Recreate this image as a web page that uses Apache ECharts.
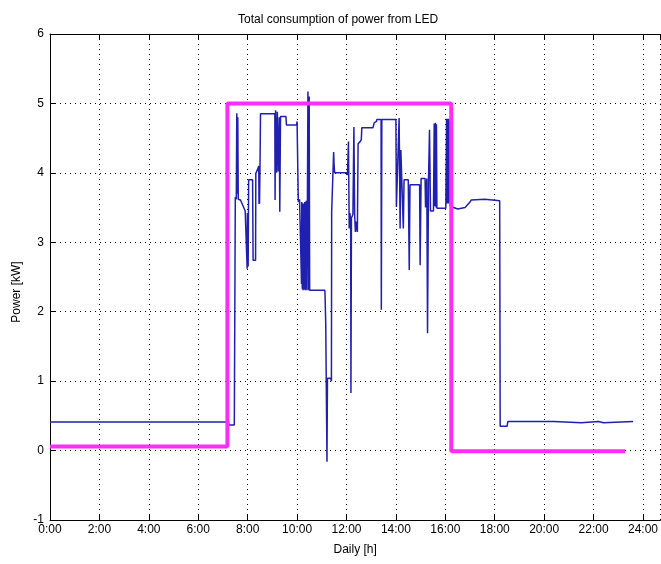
<!DOCTYPE html>
<html>
<head>
<meta charset="utf-8">
<script src="https://cdn.jsdelivr.net/npm/echarts@6/dist/echarts.min.js"></script>
<style>
html,body{margin:0;padding:0;background:#fff;}
#chart{width:661px;height:564px;}
</style>
</head>
<body>
<div id="chart"></div>
<script>
// Measured LED power consumption (hour of day, kW), 10 points per row
const ledHours = [
  0.00, 7.10, 7.14, 7.22, 7.24, 7.46, 7.50, 7.50, 7.54, 7.56,
  7.58, 7.60, 7.62, 7.71, 7.90, 7.96, 7.98, 7.99, 8.00, 8.01,
  8.02, 8.04, 8.20, 8.22, 8.32, 8.33, 8.40, 8.45, 8.46, 8.47,
  8.48, 8.50, 8.52, 9.10, 9.11, 9.13, 9.17, 9.20, 9.24, 9.28,
  9.30, 9.33, 9.55, 9.57, 9.98, 10.00, 10.04, 10.05, 10.10, 10.16,
  10.18, 10.19, 10.21, 10.22, 10.24, 10.25, 10.27, 10.28, 10.30, 10.31,
  10.33, 10.34, 10.36, 10.37, 10.40, 10.44, 10.47, 10.49, 10.51, 11.12,
  11.13, 11.16, 11.16, 11.20, 11.21, 11.23, 11.36, 11.39, 11.40, 11.45,
  11.48, 11.50, 11.52, 12.00, 12.04, 12.07, 12.08, 12.11, 12.14, 12.17,
  12.18, 12.20, 12.26, 12.30, 12.33, 12.36, 12.40, 12.44, 12.47, 12.55,
  12.60, 12.62, 13.07, 13.12, 13.21, 13.23, 13.40, 13.41, 13.43, 14.00,
  14.02, 14.10, 14.13, 14.17, 14.20, 14.28, 14.30, 14.33, 14.50, 14.54,
  14.57, 14.96, 14.98, 15.02, 15.18, 15.20, 15.25, 15.28, 15.32, 15.36,
  15.40, 15.52, 15.55, 15.58, 15.60, 15.63, 15.64, 15.66, 16.02, 16.05,
  16.07, 16.08, 16.10, 16.11, 16.13, 16.14, 16.17, 16.19, 16.20, 16.50,
  16.80, 16.82, 17.00, 17.05, 17.60, 18.20, 18.22, 18.50, 18.53, 19.70,
  20.40, 21.50, 22.20, 22.40, 23.60
];
const ledPower = [
  0.41, 0.41, 0.43, 0.43, 0.37, 0.37, 0.37, 3.65, 3.62, 4.86,
  3.70, 4.80, 3.62, 3.61, 3.45, 3.44, 2.62, 3.42, 2.66, 3.40,
  2.65, 3.90, 3.90, 2.74, 2.74, 3.99, 4.05, 4.10, 3.55, 4.08,
  3.56, 4.10, 4.85, 4.85, 3.61, 4.90, 4.00, 4.88, 4.02, 4.80,
  3.44, 4.81, 4.81, 4.69, 4.69, 4.74, 4.72, 3.58, 3.62, 3.60,
  2.40, 3.58, 2.33, 3.55, 2.31, 3.56, 2.32, 3.50, 2.35, 3.58,
  2.31, 3.55, 2.33, 3.60, 2.31, 5.17, 2.31, 5.10, 2.31, 2.31,
  2.27, 2.27, 1.83, 1.83, -0.16, 1.04, 1.04, 1.00, 3.44, 3.44,
  4.30, 4.10, 4.00, 4.00, 3.97, 3.97, 4.45, 3.20, 3.42, 3.30,
  0.83, 3.35, 3.40, 4.66, 3.40, 3.15, 3.30, 3.15, 4.42, 4.45,
  4.48, 4.65, 4.65, 4.72, 4.74, 4.77, 4.77, 2.03, 4.77, 4.77,
  3.51, 3.51, 4.79, 3.20, 4.33, 4.33, 3.20, 3.90, 3.90, 2.60,
  3.83, 3.83, 2.67, 3.92, 3.92, 3.50, 3.92, 1.69, 3.90, 4.62,
  3.45, 3.45, 4.71, 3.52, 4.72, 3.50, 4.70, 3.49, 3.49, 4.78,
  3.56, 4.78, 3.58, 4.78, 3.56, 4.78, 3.58, 4.75, 3.52, 3.48,
  3.50, 3.52, 3.58, 3.61, 3.62, 3.60, 0.35, 0.35, 0.42, 0.42,
  0.42, 0.40, 0.42, 0.40, 0.42
];
// Reference (step) profile
const refHours = [0, 7.18, 7.18, 16.24, 16.24, 23.28];
const refPower = [0.06, 0.06, 5.0, 5.0, -0.01, -0.01];
// Axis ticks
const xTicks = [0,2,4,6,8,10,12,14,16,18,20,22,24];
const yTicks = [-1,0,1,2,3,4,5,6];

const font = 'Liberation Sans, Arial, sans-serif';
const chart = echarts.init(document.getElementById('chart'), null, {renderer:'canvas'});
const ledData = ledHours.map((h,i)=>[h, ledPower[i]]);
const refData = refHours.map((h,i)=>[h, refPower[i]]);
const gridDots = {color:'#000', width:1, type:[1,4]};

chart.setOption({
  animation:false,
  backgroundColor:'#fff',
  title:{
    text:'Total consumption of power from LED',
    left:233, top:9,
    textStyle:{fontFamily:font, fontSize:12, fontWeight:'normal', color:'#000'}
  },
  graphic:[{
    type:'text', x:17, y:292, rotation:Math.PI/2,
    style:{text:'Power [kW]', fontFamily:font, fontSize:12, fill:'#000', textAlign:'center', textVerticalAlign:'middle'}
  }],
  grid:{left:50, right:0, top:34, bottom:44},
  xAxis:[{
    type:'value', min:0, max:24.7, interval:2, position:'bottom',
    name:'Daily [h]', nameLocation:'middle', nameGap:24,
    nameTextStyle:{fontFamily:font, fontSize:12, color:'#000'},
    axisLine:{show:true, onZero:false, lineStyle:{color:'#000', width:1}},
    axisTick:{show:true, inside:true, length:5, lineStyle:{color:'#000'}},
    axisLabel:{fontFamily:font, fontSize:12, color:'#000', margin:4,
      showMaxLabel:false,
      formatter:v => xTicks.includes(v) ? (v + ':00') : ''},
    splitLine:{show:true, lineStyle:gridDots}
  },{
    type:'value', min:0, max:24.7, interval:2, position:'top',
    axisLine:{show:true, onZero:false, lineStyle:{color:'#000', width:1}},
    axisTick:{show:true, inside:true, length:5, lineStyle:{color:'#000'}},
    axisLabel:{show:false}, splitLine:{show:false}
  }],
  yAxis:{
    type:'value', min:-1, max:6, interval:1,
    axisLine:{show:true, onZero:false, lineStyle:{color:'#000', width:1}},
    axisTick:{show:true, inside:true, length:5, lineStyle:{color:'#000'}},
    axisLabel:{fontFamily:font, fontSize:12, color:'#000', margin:6,
      formatter:v => yTicks.includes(v) ? String(v) : ''},
    splitLine:{show:true, lineStyle:gridDots}
  },
  series:[{
    type:'line', name:'LED power', data:ledData, showSymbol:false, symbol:'none',
    lineStyle:{color:'#2020b0', width:1.5}, z:3
  },{
    type:'line', name:'Reference', data:refData, showSymbol:false, symbol:'none',
    lineStyle:{color:'#ff2cff', width:4}, z:4
  }]
});
</script>
</body>
</html>
